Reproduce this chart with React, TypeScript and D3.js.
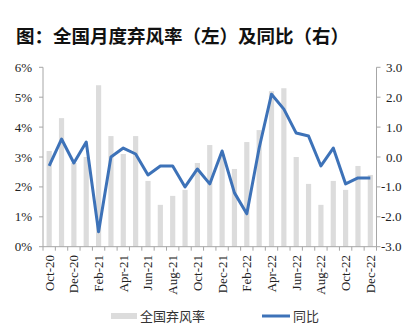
import React from "react";
import * as d3 from "d3";

const months = [
  "Oct-20","Nov-20","Dec-20","Jan-21","Feb-21","Mar-21","Apr-21","May-21","Jun-21",
  "Jul-21","Aug-21","Sep-21","Oct-21","Nov-21","Dec-21","Jan-22","Feb-22","Mar-22",
  "Apr-22","May-22","Jun-22","Jul-22","Aug-22","Sep-22","Oct-22","Nov-22","Dec-22",
];
const curtailRate = [
  3.2, 4.3, 2.8, 3.0, 5.4, 3.7, 3.1, 3.7, 2.2,
  1.4, 1.7, 1.9, 2.8, 3.4, 3.1, 2.6, 3.5, 3.9,
  5.2, 5.3, 3.0, 2.1, 1.4, 2.2, 1.9, 2.7, 2.4,
];
const yoy = [
  -0.3, 0.6, -0.2, 0.5, -2.5, 0.0, 0.3, 0.1, -0.6,
  -0.3, -0.3, -1.0, -0.4, -0.9, 0.2, -1.2, -1.9, 0.3,
  2.1, 1.6, 0.8, 0.7, -0.3, 0.3, -0.9, -0.7, -0.7,
];
const leftTicks = [0, 1, 2, 3, 4, 5, 6];
const rightTicks = [-3, -2, -1, 0, 1, 2, 3];

export default function App() {
  const W = 403, H = 325;
  const x0 = 43, x1 = 376.5, yTop = 67.3, yBot = 246.7;
  const serifStyle = { fontFamily: '"Times New Roman", "Liberation Serif", Tinos, serif' };
  const cjk = "Noto Sans CJK SC";
  const axisColor = "#a6a6a6";

  const x = d3.scaleBand<string>().domain(months).range([x0, x1]).padding(0);
  const xb = d3.scaleBand<string>().domain(months).range([x0, x1]).paddingInner(0.58).paddingOuter(0.29);
  const yL = d3.scaleLinear().domain([0, 6]).range([yBot, yTop]);
  const yR = d3.scaleLinear().domain([-3, 3]).range([yBot, yTop]);

  const line = d3.line<number>()
    .x((_, i) => (x(months[i]) as number) + x.bandwidth() / 2)
    .y((d) => yR(d));

  const boundaries = months.map((m) => x(m) as number).concat([x1]);

  return (
    <svg width={W} height={H} style={{ position: "absolute", left: 0, top: 0, background: "#fff" }}>
      <text x={16} y={43} style={{ fontFamily: cjk }} fontWeight="bold" fontSize={18.5} fill="#111">
        图：全国月度弃风率（左）及同比（右）
      </text>

      {months.map((m, i) => (
        <rect key={m} x={xb(m)} y={yL(curtailRate[i])} width={xb.bandwidth()}
          height={yBot - yL(curtailRate[i])} fill="#dcdcdc" />
      ))}

      {/* axes */}
      <line x1={x0} x2={x0} y1={yTop} y2={yBot} stroke={axisColor} />
      <line x1={x1} x2={x1} y1={yTop} y2={yBot} stroke={axisColor} />
      <line x1={x0} x2={x1} y1={yBot} y2={yBot} stroke={axisColor} />
      {leftTicks.map((t) => (
        <g key={"l" + t}>
          <line x1={x0 - 4} x2={x0} y1={yL(t)} y2={yL(t)} stroke={axisColor} />
          <text x={32} y={yL(t) + 4.5} textAnchor="end" style={serifStyle} fontSize={13} fill="#222">{t}%</text>
        </g>
      ))}
      {rightTicks.map((t) => (
        <g key={"r" + t}>
          <line x1={x1} x2={x1 + 4} y1={yR(t)} y2={yR(t)} stroke={axisColor} />
          <text x={t < 0 ? 381 : 386} y={yR(t) + 4.5} style={serifStyle} fontSize={13} fill="#222">{t.toFixed(1)}</text>
        </g>
      ))}
      {boundaries.map((b, i) => (
        <line key={"t" + i} x1={b} x2={b} y1={yBot} y2={yBot + 4} stroke={axisColor} />
      ))}
      {months.map((m, i) =>
        i % 2 === 0 ? (
          <text key={"xl" + m}
            transform={`translate(${(x(m) as number) + x.bandwidth() / 2 + 4.5},${255}) rotate(-90)`}
            textAnchor="end" style={serifStyle} fontSize={13} fill="#222">{m}</text>
        ) : null
      )}

      <path d={line(yoy) ?? ""} fill="none" stroke="#3d72b8" strokeWidth={3} strokeLinejoin="round" />

      {/* legend */}
      <rect x={111} y={313} width={26} height={6} fill="#dcdcdc" />
      <text x={140} y={321} style={{ fontFamily: cjk }} fontSize={13} fill="#333">全国弃风率</text>
      <line x1={262} x2={290} y1={316} y2={316} stroke="#3d72b8" strokeWidth={3} />
      <text x={293} y={321} style={{ fontFamily: cjk }} fontSize={13} fill="#333">同比</text>
    </svg>
  );
}
